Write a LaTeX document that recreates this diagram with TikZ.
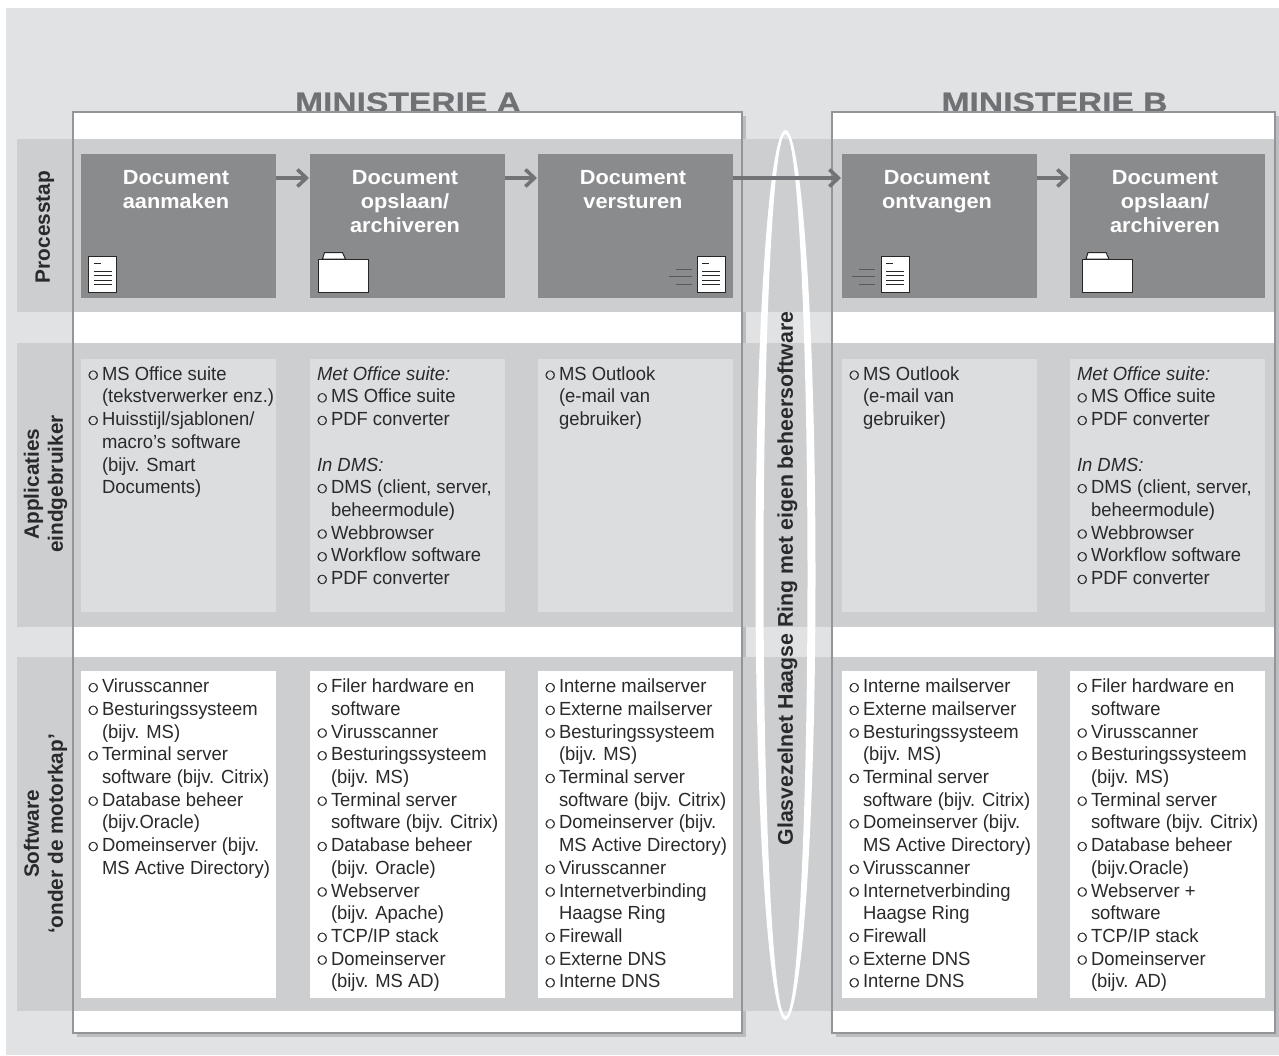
\documentclass[tikz,border=0pt]{standalone}
\usepackage{fontspec}
\usetikzlibrary{arrows.meta}
\setmainfont{Liberation Sans}
\newfontfamily\bodyf[FakeStretch=0.97]{Liberation Sans}
\newfontfamily\headf[FakeStretch=1.2,BoldFeatures={FakeBold=0.6,FakeStretch=1.2}]{Liberation Sans}
\newfontfamily\titlef[FakeStretch=1.06]{Liberation Sans}
\newfontfamily\symf[FakeBold=0.6]{DejaVu Sans}
\definecolor{bgc}{HTML}{E1E2E4}
\definecolor{bandc}{HTML}{CDCED0}
\definecolor{procc}{HTML}{8A8B8D}
\definecolor{appc}{HTML}{DCDDDF}
\definecolor{borderc}{HTML}{939598}
\definecolor{shadowc}{HTML}{BCBDC0}
\definecolor{arrowc}{HTML}{727376}
\definecolor{headc}{HTML}{707174}
\definecolor{txtc}{HTML}{2A2A2C}
\newcommand{\bu}{\makebox[14pt][l]{\raisebox{2pt}{\symf\fontsize{12}{12}\selectfont ○}}}
\newcommand{\co}{\hspace*{14pt}}
\tikzset{
  cellbox/.style={anchor=north west,inner sep=0pt,outer sep=0pt,minimum width=195pt},
  procbox/.style={cellbox,fill=procc,minimum height=144pt},
  appbox/.style={cellbox,fill=appc,minimum height=253pt},
  softbox/.style={cellbox,fill=white,minimum height=327pt},
  lst/.style={anchor=north west,inner sep=0pt,outer sep=0pt,align=left,text=txtc,
    font=\bodyf\fontsize{19}{22.7}\selectfont},
  ptitle/.style={anchor=north,inner sep=0pt,align=center,text=white,
    font=\titlef\bfseries\fontsize{20.5}{24}\selectfont},
  rowlabel/.style={rotate=90,inner sep=0pt,align=center,text=txtc,
    font=\bfseries\fontsize{20.8}{24}\selectfont},
  heading/.style={anchor=base,inner sep=0pt,text=headc,font=\headf\bfseries\fontsize{28}{28}\selectfont},
  flow/.style={draw=arrowc,line width=4.5pt,shorten >=1pt,-{Straight Barb[length=9pt,width=17pt,line width=3.6pt]}},
  iconline/.style={draw=black!85,line width=1pt},
  sendline/.style={draw=black!65,line width=1pt},
  panelrule/.style={draw=borderc,line width=1.6pt},
}
\newcommand{\docicon}[2]{\begin{scope}[shift={(#1,#2)}]
  \draw[iconline,fill=white] (0,0) rectangle (28,36);
  \draw[iconline] (5,7) -- (12,7);
  \foreach \yy in {15,19.5,24,28.5} \draw[iconline] (5,\yy) -- (23,\yy);
\end{scope}}
\newcommand{\folder}[2]{\begin{scope}[shift={(#1,#2)}]
  \draw[iconline,fill=white] (4,7) -- (6,0.5) -- (24,0.5) -- (27,7) -- cycle;
  \draw[iconline,fill=white] (0,7) rectangle (50,40);
\end{scope}}
\newcommand{\speedlines}[2]{\begin{scope}[shift={(#1,#2)}]
  \draw[sendline] (7,0) -- (23,0);
  \draw[sendline] (0,7.5) -- (23,7.5);
  \draw[sendline] (7,15) -- (23,15);
\end{scope}}
\begin{document}
\begin{tikzpicture}[x=1pt,y=-1pt]
\useasboundingbox (0,0) rectangle (1279,1055);
\fill[bgc] (6,8) rectangle (1279,1055);
% headings (behind the panels)
\coordinate (ha) at (408,112);
\coordinate (hb) at (1054.5,112);
\node[heading] (headA) at (ha) {MINISTERIE A};
\node[heading] (headB) at (hb) {MINISTERIE B};
% panels
\fill[shadowc] (77,116) rectangle (746,1037);
\fill[shadowc] (836,116) rectangle (1279,1037);
\fill[white] (73,112) rectangle (742,1033);
\fill[white] (832,112) rectangle (1275,1033);
% bands
\fill[bandc] (17,139) rectangle (1275,312);
\fill[bandc] (17,343) rectangle (1275,627);
\fill[bandc] (17,657) rectangle (1275,1011);
% panel rules
\draw[panelrule] (73,112) rectangle (742,1033);
\draw[panelrule] (832,112) rectangle (1275,1033);
% process boxes
\node[procbox] (p1) at (81,154) {};
\node[procbox] (p2) at (310,154) {};
\node[procbox] (p3) at (538,154) {};
\node[procbox] (p4) at (842,154) {};
\node[procbox] (p5) at (1070,154) {};
% application boxes
\node[appbox] (a1) at (81,359) {};
\node[appbox] (a2) at (310,359) {};
\node[appbox] (a3) at (538,359) {};
\node[appbox] (a4) at (842,359) {};
\node[appbox] (a5) at (1070,359) {};
% software boxes
\node[softbox] (s1) at (81,671) {};
\node[softbox] (s2) at (310,671) {};
\node[softbox] (s3) at (538,671) {};
\node[softbox] (s4) at (842,671) {};
\node[softbox] (s5) at (1070,671) {};
% ring
\fill[white,even odd rule] (785.5,575) ellipse [x radius=30,y radius=445]
                           (785.5,575) ellipse [x radius=22,y radius=441];
\node[rotate=90,inner sep=0pt,text=txtc,font=\bfseries\fontsize{21.3}{24}\selectfont] (ring) at (787.5,578.5) {Glasvezelnet Haagse Ring met eigen beheersoftware};
% arrows
\draw[flow] ([yshift=-24pt]p1.north east) -- ([yshift=-24pt]p2.north west);
\draw[flow] ([yshift=-24pt]p2.north east) -- ([yshift=-24pt]p3.north west);
\draw[flow] ([yshift=-24pt]p3.north east) -- ([yshift=-24pt]p4.north west);
\draw[flow] ([yshift=-24pt]p4.north east) -- ([yshift=-24pt]p5.north west);
% process titles
\node[ptitle] (t1) at ([xshift=-2.5pt,yshift=-16pt]p1.north) {Document\\aanmaken};
\node[ptitle] (t2) at ([xshift=-2.5pt,yshift=-16pt]p2.north) {Document\\opslaan/\\archiveren};
\node[ptitle] (t3) at ([xshift=-2.5pt,yshift=-16pt]p3.north) {Document\\versturen};
\node[ptitle] (t4) at ([xshift=-2.5pt,yshift=-16pt]p4.north) {Document\\ontvangen};
\node[ptitle] (t5) at ([xshift=-2.5pt,yshift=-16pt]p5.north) {Document\\opslaan/\\archiveren};
% icons
\docicon{88.5}{256}
\folder{318.5}{252}
\speedlines{669}{269}
\docicon{697}{256}
\speedlines{852}{269}
\docicon{881}{256}
\folder{1082}{252}
% row labels
\node[rowlabel] (r1) at (45,227) {Processtap};
\node[rowlabel] (r2) at (45.5,484) {Applicaties\\eindgebruiker};
\node[rowlabel] (r3) at (45.5,834) {Software\\‘onder de motorkap’};
% application lists
\node[lst] (la1) at ([xshift=7pt,yshift=-7.5pt]a1.north west) {\bu MS Office suite\\\co(tekstverwerker enz.)\\\bu Huisstijl/sjablonen/\\\co macro’s software\\\co(bijv. Smart\\\co Documents)};
\node[lst] (la2) at ([xshift=7pt,yshift=-7.5pt]a2.north west) {\textit{Met Office suite:}\\\bu MS Office suite\\\bu PDF converter\\\mbox{}\\\textit{In DMS:}\\\bu DMS (client, server,\\\co beheermodule)\\\bu Webbrowser\\\bu Workflow software\\\bu PDF converter};
\node[lst] (la3) at ([xshift=7pt,yshift=-7.5pt]a3.north west) {\bu MS Outlook\\\co(e-mail van\\\co gebruiker)};
\node[lst] (la4) at ([xshift=7pt,yshift=-7.5pt]a4.north west) {\bu MS Outlook\\\co(e-mail van\\\co gebruiker)};
\node[lst] (la5) at ([xshift=7pt,yshift=-7.5pt]a5.north west) {\textit{Met Office suite:}\\\bu MS Office suite\\\bu PDF converter\\\mbox{}\\\textit{In DMS:}\\\bu DMS (client, server,\\\co beheermodule)\\\bu Webbrowser\\\bu Workflow software\\\bu PDF converter};
% software lists
\node[lst] (ls1) at ([xshift=7pt,yshift=-8pt]s1.north west) {\bu Virusscanner\\\bu Besturingssysteem\\\co(bijv. MS)\\\bu Terminal server\\\co software (bijv. Citrix)\\\bu Database beheer\\\co(bijv.Oracle)\\\bu Domeinserver (bijv.\\\co MS Active Directory)};
\node[lst] (ls2) at ([xshift=7pt,yshift=-8pt]s2.north west) {\bu Filer hardware en\\\co software\\\bu Virusscanner\\\bu Besturingssysteem\\\co(bijv. MS)\\\bu Terminal server\\\co software (bijv. Citrix)\\\bu Database beheer\\\co(bijv. Oracle)\\\bu Webserver\\\co(bijv. Apache)\\\bu TCP/IP stack\\\bu Domeinserver\\\co(bijv. MS AD)};
\node[lst] (ls3) at ([xshift=7pt,yshift=-8pt]s3.north west) {\bu Interne mailserver\\\bu Externe mailserver\\\bu Besturingssysteem\\\co(bijv. MS)\\\bu Terminal server\\\co software (bijv. Citrix)\\\bu Domeinserver (bijv.\\\co MS Active Directory)\\\bu Virusscanner\\\bu Internetverbinding\\\co Haagse Ring\\\bu Firewall\\\bu Externe DNS\\\bu Interne DNS};
\node[lst] (ls4) at ([xshift=7pt,yshift=-8pt]s4.north west) {\bu Interne mailserver\\\bu Externe mailserver\\\bu Besturingssysteem\\\co(bijv. MS)\\\bu Terminal server\\\co software (bijv. Citrix)\\\bu Domeinserver (bijv.\\\co MS Active Directory)\\\bu Virusscanner\\\bu Internetverbinding\\\co Haagse Ring\\\bu Firewall\\\bu Externe DNS\\\bu Interne DNS};
\node[lst] (ls5) at ([xshift=7pt,yshift=-8pt]s5.north west) {\bu Filer hardware en\\\co software\\\bu Virusscanner\\\bu Besturingssysteem\\\co(bijv. MS)\\\bu Terminal server\\\co software (bijv. Citrix)\\\bu Database beheer\\\co(bijv.Oracle)\\\bu Webserver +\\\co software\\\bu TCP/IP stack\\\bu Domeinserver\\\co(bijv. AD)};
\end{tikzpicture}
\end{document}
